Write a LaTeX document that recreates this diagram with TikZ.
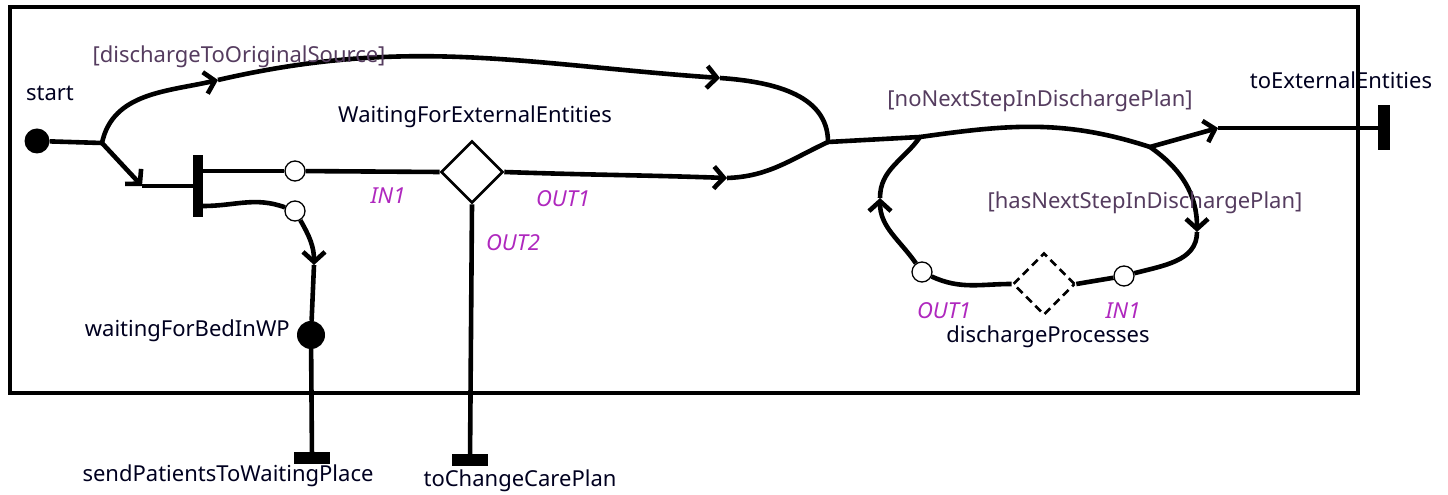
\documentclass[tikz,border=0pt]{standalone}
\usepackage{fontspec}
\setmainfont{Noto Sans}
\usepackage{xcolor}
\usepackage{tikz}
\usetikzlibrary{arrows.meta}
\usetikzlibrary{calc}
\usetikzlibrary{shapes.geometric}
\definecolor{guardcol}{RGB}{85,60,95}
\definecolor{portcol}{RGB}{175,40,190}
\colorlet{namecol}{black!88!blue}
\newcommand\diagfont{\fontsize{22}{26}\selectfont}
\tikzstyle{flowhead}=[>/.tip={Straight Barb[length=10pt,width=22pt]}]
\tikzstyle{fl} =[line width=4.6pt,flowhead,line join=round]
\tikzstyle{fla}=[fl,->]
\tikzstyle{port}=[circle,draw,line width=1.3pt,fill=white,minimum size=20pt,inner sep=0pt]
\tikzstyle{filldot}=[circle,fill,minimum size=25pt,inner sep=0pt]
\tikzstyle{act}=[diamond,draw,line width=2.6pt,fill=white,minimum width=62pt,minimum height=62pt,inner sep=0pt]
\tikzstyle{endbar}=[rectangle,fill,inner sep=0pt]
\tikzstyle{txt}=[font=\diagfont,text=namecol,inner sep=0pt]
\tikzstyle{guard}=[txt,text=guardcol]
\tikzstyle{portlbl}=[txt,text=portcol,font=\diagfont\itshape]

\begin{document}
\begin{tikzpicture}[x=1pt,y=1pt]
	\useasboundingbox (0,0) rectangle (1448,495);
	\node[filldot] (start) at (37,354) {};
	\node[endbar,minimum width=10pt,minimum height=62pt] (fork) at (198,309) {};
	\node[port] (p1) at (295,324) {};
	\node[port] (p2) at (295,284) {};
	\node[act] (wfe) at (472,323) {};
	\node[filldot,minimum height=28pt] (wbed) at (311,160) {};
	\node[endbar,minimum width=36pt,minimum height=12pt] (spwp) at (312,37) {};
	\node[endbar,minimum width=36pt,minimum height=12pt] (tccp) at (470,35) {};
	\node[endbar,minimum width=12pt,minimum height=45pt] (ext) at (1384,367) {};
	\node[act,dash pattern=on 8pt off 5pt] (dp) at (1044,211) {};
	\node[port] (p3) at (1124,219) {};
	\node[port] (p4) at (922,223) {};
	\coordinate (split) at (102,352);
	\coordinate (merge) at (828,353);
	\coordinate (jl) at (920,358);
	\coordinate (jr) at (1150,348);
	\coordinate (a1) at (218,415);
	\coordinate (a2) at (720,417);
	\coordinate (a3) at (142,309);
	\coordinate (a4) at (727,317);
	\coordinate (a5) at (314,230);
	\coordinate (a6) at (1218,367);
	\coordinate (a7) at (1197,263);
	\coordinate (a8) at (880,297);

	\draw[fl]  (start) -- (split);
	\draw[fla] (split) to[out=78,in=193] (a1);
	\draw[fla] (a1) to[out=13,in=176] (a2);
	\draw[fl]  (a2) to[out=-4,in=90] (merge);
	\draw[fla] (split) -- (a3);
	\draw[fl]  (a3) -- (fork.west |- a3);
	\draw[fl]  ([yshift=15pt]fork.east) -- (p1);
	\draw[fl]  (p1) -- (wfe.west);
	\draw[fl]  ([yshift=-20pt]fork.east) to[out=0,in=160] (p2);
	\draw[fla] (p2) to[out=-60,in=90] (a5);
	\draw[fl]  (a5) -- (wbed);
	\draw[fl]  (wbed) -- (spwp);
	\draw[fl]  (wfe.south) -- (tccp);
	\draw[fla] (wfe.east) to[out=-2,in=178] (a4);
	\draw[fl]  (a4) to[out=2,in=205] (merge);
	\draw[fl]  (merge) -- (jl);
	\draw[fl]  (jl) to[out=8,in=162] (jr);
	\draw[fla] (jr) -- (a6);
	\draw[fl]  (a6) -- (ext);
	\draw[fla] (jr) to[out=-35,in=90] (a7);
	\draw[fl]  (a7) to[out=-90,in=15] (p3);
	\draw[fl]  (p3) -- (dp.east);
	\draw[fl]  (dp.west) to[out=180,in=-25] (p4);
	\draw[fla] (p4) to[out=125,in=-90] (a8);
	\draw[fl]  (a8) to[out=90,in=235] (jl);

	\node[guard] (g1) at (239,438) {[dischargeToOriginalSource]};
	\node[guard] (g2) at (1040,394) {[noNextStepInDischargePlan]};
	\node[guard] (g3) at (1145,292) {[hasNextStepInDischargePlan]};
	\node[txt] (lstart) at (50,402) {start};
	\node[txt] (lwfe) at (475,378) {WaitingForExternalEntities};
	\node[txt,anchor=east] (lwbed) at (290,164) {waitingForBedInWP};
	\node[txt] (lspwp) at (228,19) {sendPatientsToWaitingPlace};
	\node[txt] (ltccp) at (520,14) {toChangeCarePlan};
	\node[txt] (lext) at (1341,415) {toExternalEntities};
	\node[txt] (ldp) at (1048,158) {dischargeProcesses};
	\node[portlbl] at (388,299) {IN1};
	\node[portlbl] at (563,296) {OUT1};
	\node[portlbl] at (513,252) {OUT2};
	\node[portlbl] at (944,184) {OUT1};
	\node[portlbl] at (1123,184) {IN1};

	\draw[line width=4.5pt] (10,488) rectangle (1358,102);
\end{tikzpicture}
\end{document}
